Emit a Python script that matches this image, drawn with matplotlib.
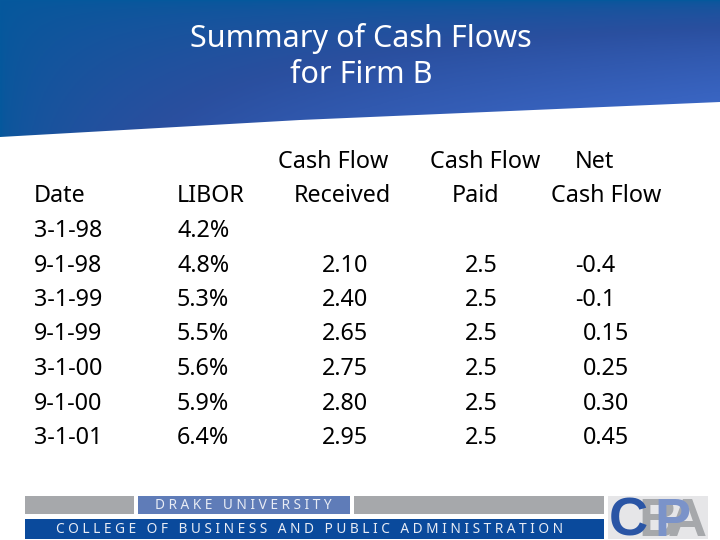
import numpy as np
import matplotlib
matplotlib.use('Agg')
import matplotlib.pyplot as plt
from matplotlib.colors import LinearSegmentedColormap
from matplotlib.patches import Polygon, Rectangle

dates = ['3-1-98', '9-1-98', '3-1-99', '9-1-99', '3-1-00', '9-1-00', '3-1-01']
libor = ['4.2%', '4.8%', '5.3%', '5.5%', '5.6%', '5.9%', '6.4%']
received = ['', '2.10', '2.40', '2.65', '2.75', '2.80', '2.95']
paid = ['', '2.5', '2.5', '2.5', '2.5', '2.5', '2.5']
net = ['', '-0.4', '-0.1', '0.15', '0.25', '0.30', '0.45']

title_lines = ['Summary of Cash Flows', 'for Firm B']

FONT = 'Noto Sans'
BODY_SIZE = 16.8
ROW0 = 231
ROW_STEP = 34.5

fig = plt.figure(figsize=(7.2, 5.4), dpi=100, facecolor='white')
ax = fig.add_axes([0, 0, 1, 1])
ax.set_xlim(0, 720)
ax.set_ylim(540, 0)
ax.axis('off')

# header band, gradient clipped to the slanted edge
cmap = LinearSegmentedColormap.from_list('band', [(0, '#05589c'), (0.45, '#2a4f9f'), (1, '#3f6dcf')])
xx, yy = np.meshgrid(np.linspace(0, 1, 300), np.linspace(0, 1, 120))
grad = np.sqrt(xx * yy)
img = ax.imshow(grad, cmap=cmap, extent=[0, 720, 138, 0], aspect='auto', vmin=0, vmax=1, zorder=1)
band = Polygon([(0, 0), (720, 0), (720, 102), (300, 120), (0, 137)], closed=True, transform=ax.transData,
               facecolor='none', edgecolor='none')
ax.add_patch(band)
img.set_clip_path(band)
ax.set_xlim(0, 720)
ax.set_ylim(540, 0)

ax.text(361, 38, title_lines[0], color='white', fontsize=22, family=FONT, ha='center', va='center', zorder=3)
ax.text(361, 75, title_lines[1], color='white', fontsize=22, family=FONT, ha='center', va='center', zorder=3)


def body(x, y, s, ha='left'):
    ax.text(x, y, s, fontsize=BODY_SIZE, family=FONT, color='black', ha=ha, va='center', zorder=3)


# column headers
body(34, ROW0 - ROW_STEP, 'Date')
body(177, ROW0 - ROW_STEP, 'LIBOR')
body(333, ROW0 - 2 * ROW_STEP, 'Cash Flow', ha='center')
body(342, ROW0 - ROW_STEP, 'Received', ha='center')
body(485, ROW0 - 2 * ROW_STEP, 'Cash Flow', ha='center')
body(476, ROW0 - ROW_STEP, 'Paid', ha='center')
body(594, ROW0 - 2 * ROW_STEP, 'Net', ha='center')
body(606, ROW0 - ROW_STEP, 'Cash Flow', ha='center')

for i in range(len(dates)):
    y = ROW0 + i * ROW_STEP
    body(34, y, dates[i])
    body(177, y, libor[i])
    body(322, y, received[i])
    body(465, y, paid[i])
    body(575 if net[i].startswith('-') else 583, y, net[i])

# footer banner
ax.add_patch(Rectangle((25, 496), 109, 18, facecolor='#a6a8ab', zorder=2))
ax.add_patch(Rectangle((138, 496), 212, 18, facecolor='#5f7cb8', zorder=2))
ax.add_patch(Rectangle((354, 496), 250, 18, facecolor='#a6a8ab', zorder=2))
ax.add_patch(Rectangle((25, 519), 579, 20, facecolor='#0a4a9c', zorder=2))
ax.add_patch(Rectangle((608, 496), 100, 43, facecolor='#e6e6e8', zorder=2))

ax.text(243, 505.5, 'D R A K E   U N I V E R S I T Y', color='#e8ecf5', fontsize=9.85, family=FONT,
        ha='center', va='center', zorder=3)
ax.text(310, 529.5, 'C O L L E G E   O F   B U S I N E S S   A N D   P U B L I C   A D M I N I S T R A T I O N',
        color='#e8ecf5', fontsize=9.85, family=FONT, ha='center', va='center', zorder=3)

# CBPA logo letters
ax.text(609, 536, 'C', color='#2a55a5', fontsize=39, family='Liberation Sans', weight='bold', ha='left', va='baseline', zorder=5)
ax.text(638, 536, 'B', color='#a6a8ab', fontsize=39, family='Liberation Sans', weight='bold', ha='left', va='baseline', zorder=4)
ax.text(668, 536, 'A', color='#a6a8ab', fontsize=39, family='Liberation Sans', weight='bold', ha='left', va='baseline', zorder=3)
ax.text(654, 536, 'P', color='#7b93c9', fontsize=39, family='Liberation Sans', weight='bold', ha='left', va='baseline', zorder=4)

fig.savefig('out.png', dpi=100, facecolor='white')
